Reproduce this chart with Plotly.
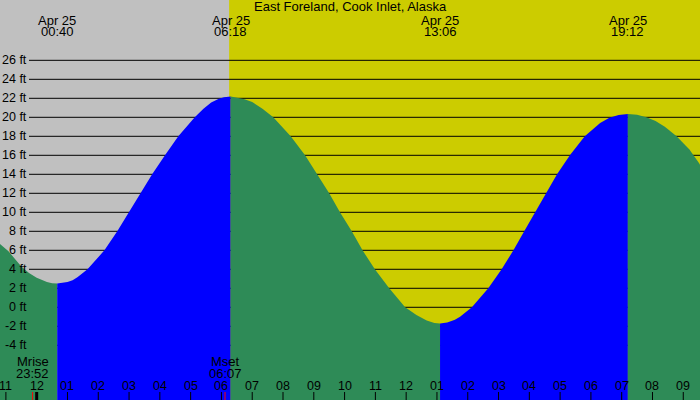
import plotly.graph_objects as go

# ---------------- data ----------------
TITLE = "East Foreland, Cook Inlet, Alaska"

CURVE_TIME = [
    # falling to the 00:40 low
    "2024-04-24 22:48", "2024-04-24 23:05", "2024-04-24 23:30", "2024-04-24 23:45",
    "2024-04-25 00:00", "2024-04-25 00:10", "2024-04-25 00:20", "2024-04-25 00:30",
    "2024-04-25 00:40",
    # rising to the 06:18 high
    "2024-04-25 00:50", "2024-04-25 01:00", "2024-04-25 01:10", "2024-04-25 01:20",
    "2024-04-25 01:39", "2024-04-25 02:12", "2024-04-25 02:37", "2024-04-25 03:00",
    "2024-04-25 03:23", "2024-04-25 03:45", "2024-04-25 04:10", "2024-04-25 04:36",
    "2024-04-25 05:08", "2024-04-25 05:25", "2024-04-25 05:40", "2024-04-25 05:55",
    "2024-04-25 06:05", "2024-04-25 06:18",
    # falling to the 13:06 low
    "2024-04-25 06:30", "2024-04-25 06:45", "2024-04-25 07:00", "2024-04-25 07:20",
    "2024-04-25 07:41", "2024-04-25 08:15", "2024-04-25 08:43", "2024-04-25 09:07",
    "2024-04-25 09:30", "2024-04-25 09:51", "2024-04-25 10:14", "2024-04-25 10:35",
    "2024-04-25 10:59", "2024-04-25 11:27", "2024-04-25 11:58", "2024-04-25 12:20",
    "2024-04-25 12:40", "2024-04-25 12:55", "2024-04-25 13:06",
    # rising to the 19:12 high
    "2024-04-25 13:20", "2024-04-25 13:35", "2024-04-25 13:45", "2024-04-25 14:08",
    "2024-04-25 14:40", "2024-04-25 15:06", "2024-04-25 15:29", "2024-04-25 15:50",
    "2024-04-25 16:11", "2024-04-25 16:32", "2024-04-25 16:54", "2024-04-25 17:19",
    "2024-04-25 17:48", "2024-04-25 18:18", "2024-04-25 18:36", "2024-04-25 18:54",
    "2024-04-25 19:12",
    # falling again
    "2024-04-25 19:30", "2024-04-25 19:48", "2024-04-25 20:06", "2024-04-25 20:24",
    "2024-04-25 20:47", "2024-04-25 21:12", "2024-04-25 21:33",
]
CURVE_FT = [
    6.7, 5.9, 4.3, 3.6,
    3.1, 2.85, 2.65, 2.54,
    2.5,
    2.55, 2.65, 2.85, 3.2,
    4.0, 6.0, 8.0, 10.0,
    12.0, 14.0, 16.0, 18.0,
    20.0, 20.9, 21.55, 21.95,
    22.1, 22.2,
    22.1, 21.9, 21.6, 20.9,
    20.0, 18.0, 16.0, 14.0,
    12.0, 10.0, 8.0, 6.0,
    4.0, 2.0, 0.0, -0.8,
    -1.4, -1.65, -1.7,
    -1.6, -1.3, -1.0, 0.0,
    2.0, 4.0, 6.0, 8.0,
    10.0, 12.0, 14.0, 16.0,
    18.0, 19.4, 19.95, 20.25,
    20.35,
    20.27, 20.0, 19.6, 19.0,
    18.0, 16.6, 15.0,
]

EXTREME_TIME = ["2024-04-25 00:40", "2024-04-25 06:18", "2024-04-25 13:06", "2024-04-25 19:12"]
EXTREME_DATE_LABEL = ["Apr 25", "Apr 25", "Apr 25", "Apr 25"]
EXTREME_TIME_LABEL = ["00:40", "06:18", "13:06", "19:12"]

MOON_TIME = ["2024-04-24 23:52", "2024-04-25 06:07"]
MOON_LABEL = ["Mrise", "Mset"]
MOON_TIME_LABEL = ["23:52", "06:07"]

MIDNIGHT = "2024-04-25 00:00"
SUNRISE = "2024-04-25 06:15"

HOUR_TIME = [
    "2024-04-24 23:00", "2024-04-25 00:00", "2024-04-25 01:00", "2024-04-25 02:00",
    "2024-04-25 03:00", "2024-04-25 04:00", "2024-04-25 05:00", "2024-04-25 06:00",
    "2024-04-25 07:00", "2024-04-25 08:00", "2024-04-25 09:00", "2024-04-25 10:00",
    "2024-04-25 11:00", "2024-04-25 12:00", "2024-04-25 13:00", "2024-04-25 14:00",
    "2024-04-25 15:00", "2024-04-25 16:00", "2024-04-25 17:00", "2024-04-25 18:00",
    "2024-04-25 19:00", "2024-04-25 20:00", "2024-04-25 21:00",
]
HOUR_LABELS = ["11", "12", "01", "02", "03", "04", "05", "06", "07", "08", "09", "10",
               "11", "12", "01", "02", "03", "04", "05", "06", "07", "08", "09"]

Y_TICKS = [-4, -2, 0, 2, 4, 6, 8, 10, 12, 14, 16, 18, 20, 22, 24, 26]
Y_TICK_LABELS = [f"{v} ft" for v in Y_TICKS]

X_RANGE = ["2024-04-24 22:48:30", "2024-04-25 21:32:35"]
Y_RANGE = [-9.76, 32.35]

# ---------------- styling ----------------
W, H = 700, 400
FONT = "Liberation Sans, Arial, sans-serif"
GREY = "#c0c0c0"
YELLOW = "#cccc00"
GREEN = "#2e8b57"
BLUE = "#0000ff"

fig = go.Figure()

# split the curve at the extremes, fill each piece down to the axis bottom
split_idx = [0] + [CURVE_TIME.index(t) for t in EXTREME_TIME] + [len(CURVE_TIME) - 1]
for a, b in zip(split_idx[:-1], split_idx[1:]):
    xs = CURVE_TIME[a:b + 1]
    ys = CURVE_FT[a:b + 1]
    color = BLUE if ys[-1] > ys[0] else GREEN
    fig.add_trace(go.Scatter(x=[xs[0], xs[-1]], y=[Y_RANGE[0], Y_RANGE[0]],
                             mode="lines", line=dict(width=0, color=color),
                             hoverinfo="skip", showlegend=False))
    fig.add_trace(go.Scatter(x=xs, y=ys, mode="lines", fill="tonexty",
                             fillcolor=color, line=dict(width=0, color=color),
                             hoverinfo="skip", showlegend=False))

shapes = []
# daylight background
shapes.append(dict(type="rect", xref="x", yref="paper", x0=SUNRISE, x1=X_RANGE[1],
                   y0=0, y1=1, fillcolor=YELLOW, line=dict(width=0), layer="below"))
# horizontal grid lines
for v in Y_TICKS:
    shapes.append(dict(type="line", xref="paper", yref="y", x0=29 / W, x1=1, y0=v, y1=v,
                       line=dict(color="black", width=1), layer="below"))
# hour ticks
for t in HOUR_TIME:
    shapes.append(dict(type="line", xref="x", yref="paper", x0=t, x1=t,
                       y0=0, y1=8 / H, line=dict(color="black", width=1)))
# midnight marker
shapes.append(dict(type="line", xref="x", yref="paper", x0=MIDNIGHT, x1=MIDNIGHT,
                   y0=0, y1=8 / H, line=dict(color="black", width=3)))
# moon markers
for t in MOON_TIME:
    shapes.append(dict(type="line", xref="x", yref="paper", x0=t, x1=t,
                       y0=0, y1=8 / H, line=dict(color="red", width=1)))

annotations = []


def label(text, x, y, xref="x", yref="paper", size=13, xanchor="center"):
    annotations.append(dict(text=text, xref=xref, yref=yref, x=x, y=y,
                            xanchor=xanchor, yanchor="middle", showarrow=False,
                            font=dict(family=FONT, size=size, color="black")))


label(TITLE, 0.5, 1 - 7 / H, xref="paper")
for t, d, hm in zip(EXTREME_TIME, EXTREME_DATE_LABEL, EXTREME_TIME_LABEL):
    label(d, t, 1 - 20 / H)
    label(hm, t, 1 - 32 / H)
for t, lab, hm in zip(MOON_TIME, MOON_LABEL, MOON_TIME_LABEL):
    label(lab, t, 1 - 361.5 / H)
    label(hm, t, 1 - 373.7 / H)
for t, lab in zip(HOUR_TIME, HOUR_LABELS):
    label(lab, t, 1 - 386 / H, size=12.5)
for v, lab in zip(Y_TICKS, Y_TICK_LABELS):
    label(lab, 28.5 / W, v, xref="paper", yref="y", size=12.5, xanchor="right")

fig.update_layout(
    width=W, height=H, autosize=False,
    margin=dict(l=0, r=0, t=0, b=0, pad=0),
    paper_bgcolor=GREY, plot_bgcolor=GREY,
    showlegend=False,
    shapes=shapes, annotations=annotations,
    xaxis=dict(type="date", range=X_RANGE, showticklabels=False, ticks="",
               showgrid=False, zeroline=False, showline=False, automargin=False,
               fixedrange=True),
    yaxis=dict(range=Y_RANGE, visible=False, fixedrange=True),
)

fig.write_html("out.html")
